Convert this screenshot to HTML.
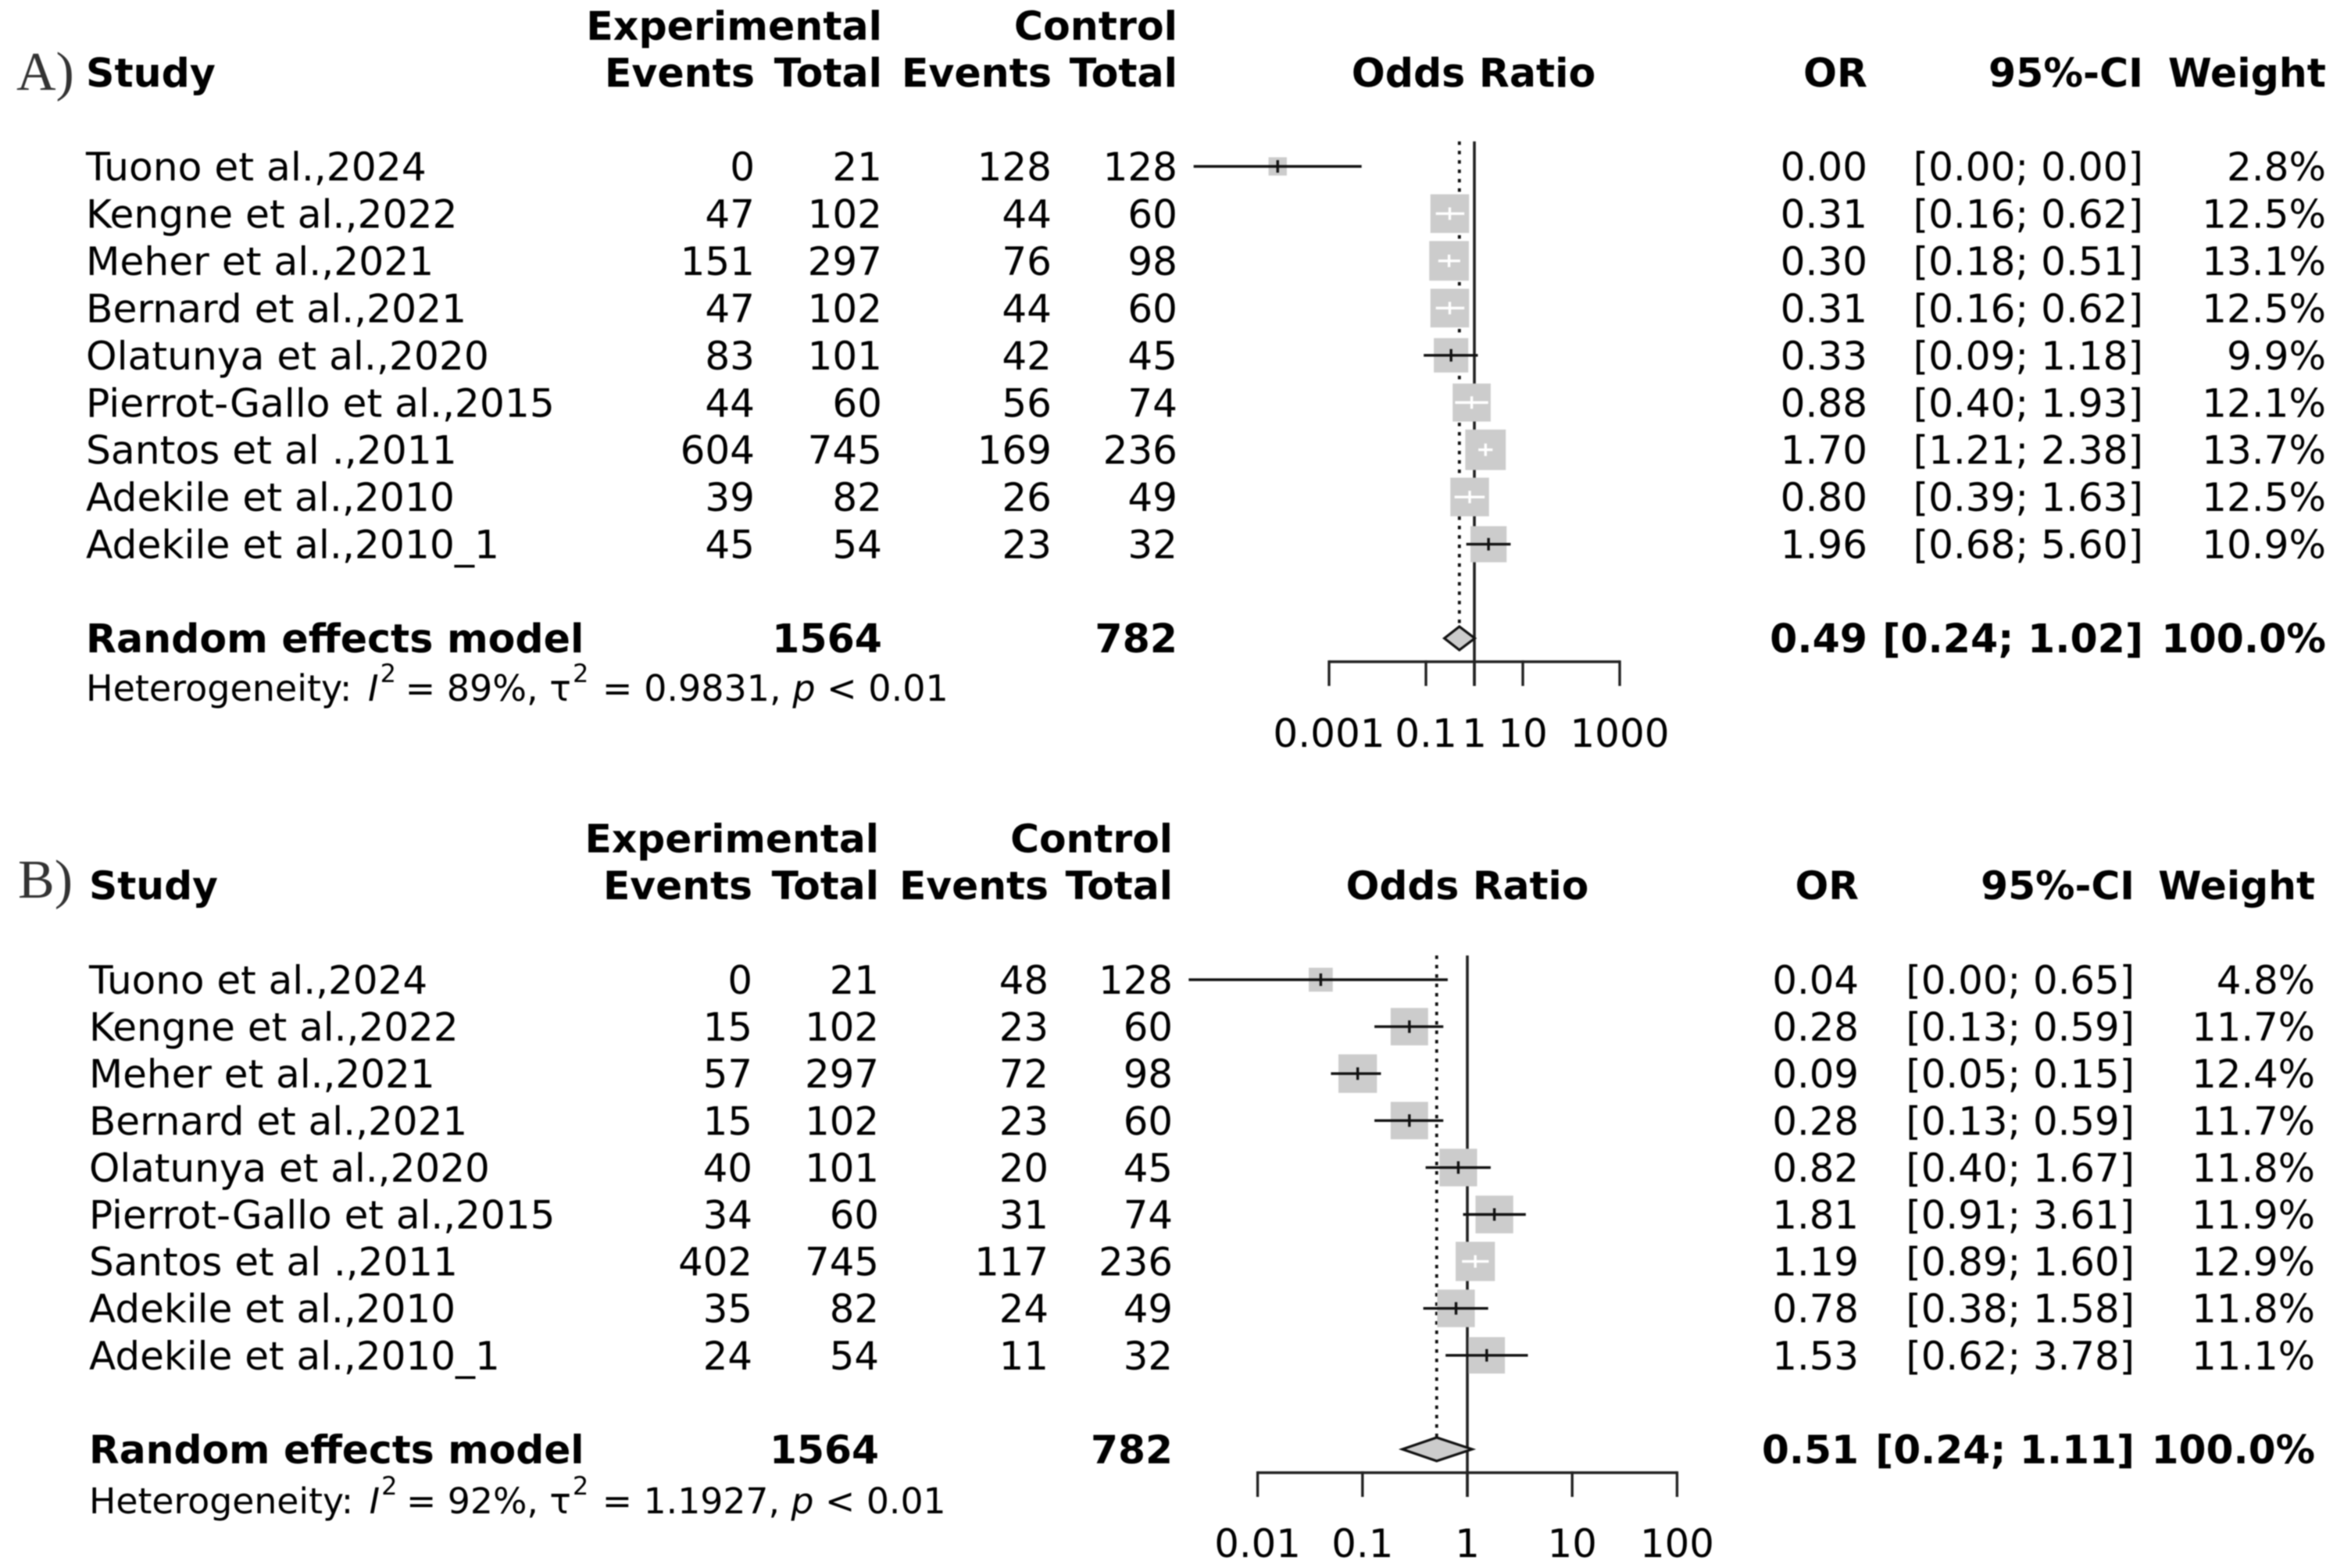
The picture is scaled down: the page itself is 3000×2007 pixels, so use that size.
<!DOCTYPE html>
<html lang="en">
<head>
<meta charset="utf-8">
<title>Forest plots of odds ratios</title>
<style>
html,body{margin:0;padding:0;background:#fff;width:3000px;height:2007px;overflow:hidden}
svg{display:block;filter:blur(0.7px)}
text{font-family:"DejaVu Sans","Liberation Sans",sans-serif;fill:#000}
.b{font-weight:bold}
.e{text-anchor:end}
.m{text-anchor:middle}
.letter{font-family:"Liberation Serif",serif;font-size:70px;fill:#333}
</style>
</head>
<body>
<svg id="chart" xmlns="http://www.w3.org/2000/svg" width="3000" height="2007" viewBox="0 0 3000 2007">
  <rect x="0" y="0" width="3000" height="2007" fill="#fff"/>

  <g id="headerA" font-size="50.6">
    <text class="letter" x="21" y="115">A)</text>
    <text class="b e" x="1129" y="51">Experimental</text>
    <text class="b e" x="1507" y="51">Control</text>
    <text class="b" x="110" y="111">Study</text>
    <text class="b e" x="966" y="111">Events</text>
    <text class="b e" x="1129" y="111">Total</text>
    <text class="b e" x="1346" y="111">Events</text>
    <text class="b e" x="1507" y="111">Total</text>
    <text class="b m" x="1886" y="111">Odds Ratio</text>
    <text class="b e" x="2390" y="111">OR</text>
    <text class="b e" x="2743" y="111">95%-CI</text>
    <text class="b e" x="2977" y="111">Weight</text>
    <text class="b" x="110" y="835">Random effects model</text>
    <text x="110" y="897" font-size="46">Heterogeneity: <tspan font-style="italic" dx="6">I</tspan><tspan font-size="32" dy="-24" dx="2">2</tspan><tspan dy="24" dx="-3"> = 89%, τ</tspan><tspan font-size="32" dy="-24" dx="2">2</tspan><tspan dy="24" dx="3"> = 0.9831, </tspan><tspan font-style="italic">p</tspan> &lt; 0.01</text>
  </g>

  <g id="headerB" font-size="50.3">
    <text class="letter" x="23" y="1149">B)</text>
    <text class="b e" x="1125" y="1091">Experimental</text>
    <text class="b e" x="1501" y="1091">Control</text>
    <text class="b" x="114" y="1151">Study</text>
    <text class="b e" x="963" y="1151">Events</text>
    <text class="b e" x="1125" y="1151">Total</text>
    <text class="b e" x="1342" y="1151">Events</text>
    <text class="b e" x="1501" y="1151">Total</text>
    <text class="b m" x="1878" y="1151">Odds Ratio</text>
    <text class="b e" x="2379" y="1151">OR</text>
    <text class="b e" x="2732" y="1151">95%-CI</text>
    <text class="b e" x="2963" y="1151">Weight</text>
    <text class="b" x="114" y="1873">Random effects model</text>
    <text x="114" y="1937" font-size="45.7">Heterogeneity: <tspan font-style="italic" dx="6">I</tspan><tspan font-size="32" dy="-24" dx="2">2</tspan><tspan dy="24" dx="-3"> = 92%, τ</tspan><tspan font-size="32" dy="-24" dx="2">2</tspan><tspan dy="24" dx="3"> = 1.1927, </tspan><tspan font-style="italic">p</tspan> &lt; 0.01</text>
  </g>
</svg>

<script>
// ---- shared categories ----
const studies = ["Tuono et al.,2024","Kengne et al.,2022","Meher et al.,2021","Bernard et al.,2021","Olatunya et al.,2020","Pierrot-Gallo et al.,2015","Santos et al .,2011","Adekile et al.,2010","Adekile et al.,2010_1"];
const expTotals = [21,102,297,102,101,60,745,82,54];
const ctrlTotals = [128,60,98,60,45,74,236,49,32];

// ---- panel A data ----
const expEventsA = [0,47,151,47,83,44,604,39,45];
const ctrlEventsA = [128,44,76,44,42,56,169,26,23];
const orA = [0.000087,0.31,0.30,0.31,0.33,0.88,1.70,0.80,1.96];
const loA = [0.0000016,0.16,0.18,0.16,0.09,0.40,1.21,0.39,0.68];
const hiA = [0.0047,0.62,0.51,0.62,1.18,1.93,2.38,1.63,5.60];
const weightA = [2.8,12.5,13.1,12.5,9.9,12.1,13.7,12.5,10.9];
const poolA = [0.49,0.24,1.02];
const sumTotalsA = [1564,782];
const ticksA = [0.001,0.1,1,10,1000];
const tickLabelsA = ["0.001","0.1","1","10","1000"];

// ---- panel B data ----
const expEventsB = [0,15,57,15,40,34,402,35,24];
const ctrlEventsB = [48,23,72,23,20,31,117,24,11];
const orB = [0.04,0.28,0.09,0.28,0.82,1.81,1.19,0.78,1.53];
const loB = [0.0022,0.13,0.05,0.13,0.40,0.91,0.89,0.38,0.62];
const hiB = [0.65,0.59,0.15,0.59,1.67,3.61,1.60,1.58,3.78];
const weightB = [4.8,11.7,12.4,11.7,11.8,11.9,12.9,11.8,11.1];
const poolB = [0.51,0.24,1.11];
const sumTotalsB = [1564,782];
const ticksB = [0.01,0.1,1,10,100];
const tickLabelsB = ["0.01","0.1","1","10","100"];

const NS = "http://www.w3.org/2000/svg";
const svg = document.getElementById("chart");

function mk(parent, tag, attrs) {
  const el = document.createElementNS(NS, tag);
  for (const k in attrs) el.setAttribute(k, attrs[k]);
  parent.appendChild(el);
  return el;
}
function txt(parent, x, y, s, cls, size) {
  const el = mk(parent, "text", {x: x, y: y, "class": cls, "font-size": size});
  el.textContent = s;
  return el;
}

function drawPanel(p) {
  const xScale = v => p.x1 + Math.log10(v) * p.decade;
  const rowY = i => p.row0 + p.pitch * i;
  const markY = i => rowY(i) + p.markOffset;

  const g = mk(svg, "g", {});
  
  

  // table rows
  const table = mk(g, "g", {});
  
  
  studies.forEach((s, i) => {
    const y = rowY(i);
    const name = txt(table, p.cols.study, y, s, "", p.studyFont);
    
    
    const a = txt(table, p.cols.expEv, y, p.expEvents[i], "e", p.font);
    
    
    const b = txt(table, p.cols.expTot, y, expTotals[i], "e", p.font);
    
    
    const c = txt(table, p.cols.ctrlEv, y, p.ctrlEvents[i], "e", p.font);
    
    
    const d = txt(table, p.cols.ctrlTot, y, ctrlTotals[i], "e", p.font);
    
    
    const o = txt(table, p.cols.or, y, p.or[i].toFixed(2), "e", p.font);
    
    
    const ci = txt(table, p.cols.ci, y, "[" + p.lo[i].toFixed(2) + "; " + p.hi[i].toFixed(2) + "]", "e", p.font);
    
    
    const w = txt(table, p.cols.wt, y, p.weight[i].toFixed(1) + "%", "e", p.font);
    
    
  });

  // pooled row
  const sy = p.sumY;
  const st1 = txt(table, p.cols.expTot, sy, p.totals[0], "b e", p.boldFont);
  
  
  const st2 = txt(table, p.cols.ctrlTot, sy, p.totals[1], "b e", p.boldFont);
  
  
  const po = txt(table, p.cols.or, sy, p.pool[0].toFixed(2), "b e", p.boldFont);
  
  
  const pc = txt(table, p.cols.ci, sy, "[" + p.pool[1].toFixed(2) + "; " + p.pool[2].toFixed(2) + "]", "b e", p.boldFont);
  
  
  const pw = txt(table, p.cols.wt, sy, "100.0%", "b e", p.boldFont);
  
  

  // reference lines
  const ref = mk(g, "line", {x1: xScale(1), x2: xScale(1), y1: p.refTop, y2: p.axisY + p.tickLen, stroke: "#222", "stroke-width": 3.6});
  
  
  const dy = p.poolY;
  const dot = mk(g, "line", {x1: xScale(p.pool[0]), x2: xScale(p.pool[0]), y1: p.refTop, y2: dy - p.diaH, stroke: "#111", "stroke-width": 3.8, "stroke-dasharray": "4.5 7.5"});
  
  

  // study marks
  studies.forEach((s, i) => {
    const cx = xScale(p.or[i]), y = markY(i);
    const size = p.k * Math.sqrt(p.weight[i]);
    const sq = mk(g, "rect", {x: cx - size / 2, y: y - size / 2, width: size, height: size, fill: "#cccccc"});
    
    
  });
  studies.forEach((s, i) => {
    const cx = xScale(p.or[i]), y = markY(i);
    const size = p.k * Math.sqrt(p.weight[i]);
    const xl = xScale(p.lo[i]), xh = xScale(p.hi[i]);
    const inside = xl >= cx - size / 2 && xh <= cx + size / 2;
    const col = inside ? "#fff" : "#111";
    const ci = mk(g, "line", {x1: xl, x2: xh, y1: y, y2: y, stroke: col, "stroke-width": 3.4});
    
    
    const tk = mk(g, "line", {x1: cx, x2: cx, y1: y - 8, y2: y + 8, stroke: col, "stroke-width": 3.4});
    
    
  });

  // pooled diamond
  const dl = xScale(p.pool[1]), dc = xScale(p.pool[0]), dr = xScale(p.pool[2]);
  const dia = mk(g, "polygon", {points: dl + "," + dy + " " + dc + "," + (dy - p.diaH) + " " + dr + "," + dy + " " + dc + "," + (dy + p.diaH), fill: "#cccccc", stroke: "#111", "stroke-width": 3.2});
  
  

  // x axis
  const axis = mk(g, "g", {});
  
  
  const ax0 = xScale(p.ticks[0]), ax1 = xScale(p.ticks[p.ticks.length - 1]);
  const base = mk(axis, "line", {x1: ax0, x2: ax1, y1: p.axisY, y2: p.axisY, stroke: "#222", "stroke-width": 3.4});
  
  
  p.ticks.forEach((t, i) => {
    const tx = xScale(t);
    const tick = mk(axis, "line", {x1: tx, x2: tx, y1: p.axisY - 1.7, y2: p.axisY + p.tickLen, stroke: "#222", "stroke-width": 3.4});
    
    
    const lab = txt(axis, tx, p.tickLabelY, p.tickLabels[i], "m", p.font);
    
    
  });
}

drawPanel({
  id: "panel-a", font: 50, studyFont: 50.3, boldFont: 50.6, row0: 231, pitch: 60.45, markOffset: -18, k: 14, sumY: 835,
  x1: 1887, decade: 62, refTop: 181, axisY: 847, tickLen: 31, tickLabelY: 956, poolY: 817, diaH: 15,
  cols: {study: 110, expEv: 966, expTot: 1129, ctrlEv: 1346, ctrlTot: 1507, or: 2390, ci: 2743, wt: 2977},
  expEvents: expEventsA, ctrlEvents: ctrlEventsA, or: orA, lo: loA, hi: hiA, weight: weightA,
  pool: poolA, totals: sumTotalsA, ticks: ticksA, tickLabels: tickLabelsA
});
drawPanel({
  id: "panel-b", font: 49.7, studyFont: 50, boldFont: 50.3, row0: 1272, pitch: 60.1, markOffset: -18, k: 14, sumY: 1873,
  x1: 1878, decade: 134.2, refTop: 1223, axisY: 1885, tickLen: 31, tickLabelY: 1993, poolY: 1855, diaH: 15,
  cols: {study: 114, expEv: 963, expTot: 1125, ctrlEv: 1342, ctrlTot: 1501, or: 2379, ci: 2732, wt: 2963},
  expEvents: expEventsB, ctrlEvents: ctrlEventsB, or: orB, lo: loB, hi: hiB, weight: weightB,
  pool: poolB, totals: sumTotalsB, ticks: ticksB, tickLabels: tickLabelsB
});
</script>
</body>
</html>
